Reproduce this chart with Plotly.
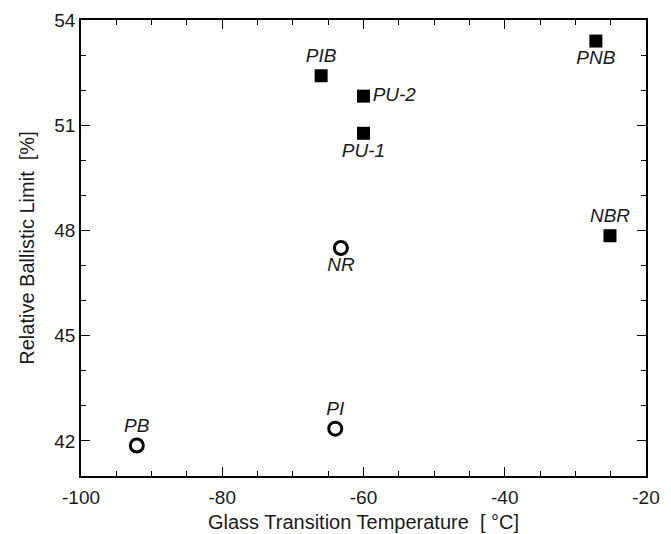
import plotly.graph_objects as go

# filled squares
sq_names = ["PIB", "PU-2", "PU-1", "PNB", "NBR"]
sq_tg = [-66.0, -60.0, -60.0, -27.1, -25.1]
sq_bl = [52.41, 51.83, 50.77, 53.40, 47.85]
sq_pos = ["top center", "middle right", "bottom center", "bottom center", "top center"]

# open circles
ci_names = ["NR", "PI", "PB"]
ci_tg = [-63.2, -64.0, -92.1]
ci_bl = [47.50, 42.35, 41.87]
ci_pos = ["bottom center", "top center", "top center"]

x_ticks = [-100, -80, -60, -40, -20]
y_ticks = [42, 45, 48, 51, 54]

font = "Liberation Sans, Arial, sans-serif"

fig = go.Figure()
fig.add_trace(go.Scatter(
    x=sq_tg, y=sq_bl, mode="markers+text", text=sq_names, textposition=sq_pos,
    marker=dict(symbol="square", size=13, color="black"),
    textfont=dict(family=font, size=19, color="#1a1a1a", style="italic"),
    cliponaxis=False,
))
fig.add_trace(go.Scatter(
    x=ci_tg, y=ci_bl, mode="markers+text", text=ci_names, textposition=ci_pos,
    marker=dict(symbol="circle-open", size=13, color="black", line=dict(width=3, color="black")),
    textfont=dict(family=font, size=19, color="#1a1a1a", style="italic"),
    cliponaxis=False,
))

axis_common = dict(
    showgrid=False, zeroline=False, showline=True, linecolor="black", linewidth=1.5,
    mirror="allticks", ticks="inside", ticklen=9, tickwidth=1.2, tickcolor="black",
    tickfont=dict(family=font, size=19, color="#1a1a1a"), automargin=False,
)
fig.update_xaxes(
    range=[-100, -20], tickvals=x_ticks, ticktext=[str(v) for v in x_ticks],
    minor=dict(dtick=5, tick0=0, ticks="inside", ticklen=5, tickwidth=1.2, tickcolor="black"),
    ticklabelstandoff=3,
    title=dict(text="Glass Transition Temperature  [ °C]", font=dict(family=font, size=20, color="#1a1a1a"), standoff=8),
    **axis_common,
)
fig.update_yaxes(
    range=[41, 54], tickvals=y_ticks, ticktext=[str(v) for v in y_ticks],
    minor=dict(dtick=1, tick0=0, ticks="inside", ticklen=5, tickwidth=1.2, tickcolor="black"),
    title=dict(text="Relative Ballistic Limit  [%]", font=dict(family=font, size=20, color="#1a1a1a"), standoff=14),
    **axis_common,
)
fig.update_layout(
    width=663, height=526, showlegend=False,
    plot_bgcolor="white", paper_bgcolor="white",
    margin=dict(l=73, r=25, t=12, b=58),
)
fig.write_html("out.html")
